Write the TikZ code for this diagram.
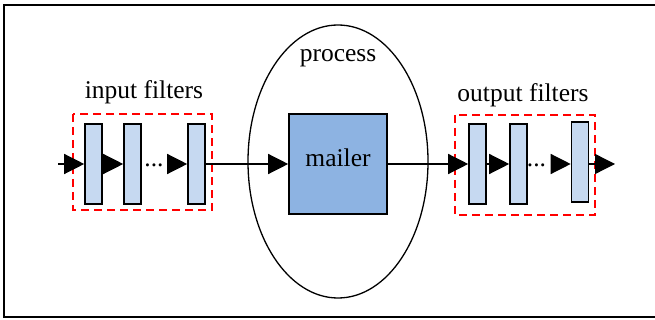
\documentclass[tikz,border=0pt]{standalone}
\usepackage{fontspec}
\setmainfont{Liberation Serif}
\usetikzlibrary{arrows.meta,shapes.geometric}
\definecolor{filtblue}{HTML}{C6D9F1}
\definecolor{mailblue}{HTML}{8DB3E2}
\tikzset{
	txt/.style={font=\fontsize{25.5}{30}\selectfont, inner sep=0pt},
	filt/.style={draw, line width=1.6pt, fill=filtblue, minimum width=17pt, minimum height=80pt, inner sep=0pt},
	grp/.style={draw=red, line width=1.4pt, dash pattern=on 8pt off 5pt},
	flow/.style={line width=1.3pt, -{Triangle[length=20pt,width=20pt]}},
}
\begin{document}
\begin{tikzpicture}[x=1pt,y=-1pt]
		\useasboundingbox (0,0) rectangle (655,320);
		\draw [line width=2pt] (4,5) rectangle (665,317);
		% process with the mailer inside
		\node[draw, ellipse, line width=1.3pt, minimum width=180pt, minimum height=273pt] (proc) at (338,161.5) {};
		\node[txt] (proctxt) at (338,58) {process};
		\node[draw, line width=1.6pt, fill=mailblue, minimum width=98pt, minimum height=100pt] (mail) at (338,164) {};
		\node[txt] (mailtxt) at ([yshift=6pt]mail.center) {mailer};
		% input filters
		\draw [grp] (73,114) rectangle (212,210);
		\node[txt] (intxt) at (144,92) {input filters};
		\node[filt] (i1) at (93.5,164) {};
		\node[filt] (i2) at (132.5,164) {};
		\node[filt] (i3) at (196.5,164) {};
		\node[txt] (idots) at (154,165) {...};
		\coordinate (inS) at (58,164);
		\draw [flow] (inS) -- (i1.west);
		\draw [flow] (i1.east) -- (i2.west);
		\draw [flow, shorten <=5pt] (idots.east |- i3.west) -- (i3.west);
		\draw [flow] (i3.east) -- (mail.west);
		% output filters
		\draw [grp] (455,115) rectangle (595,215);
		\node[txt] (outtxt) at (523,95) {output filters};
		\node[filt] (o1) at (477.5,164) {};
		\node[filt] (o2) at (518.5,164) {};
		\node[filt] (o3) at (580,162) {};
		\node[txt] (odots) at (536.5,165) {...};
		\coordinate (outE) at (615,164);
		\draw [flow] (mail.east) -- (o1.west);
		\draw [flow] (o1.east) -- (o2.west);
		\draw [flow, shorten <=8pt] (odots.east |- o2.east) -- (o3.west |- o2.east);
		\draw [flow] (o3.east |- o2.east) -- (outE);
	\end{tikzpicture}
\end{document}
